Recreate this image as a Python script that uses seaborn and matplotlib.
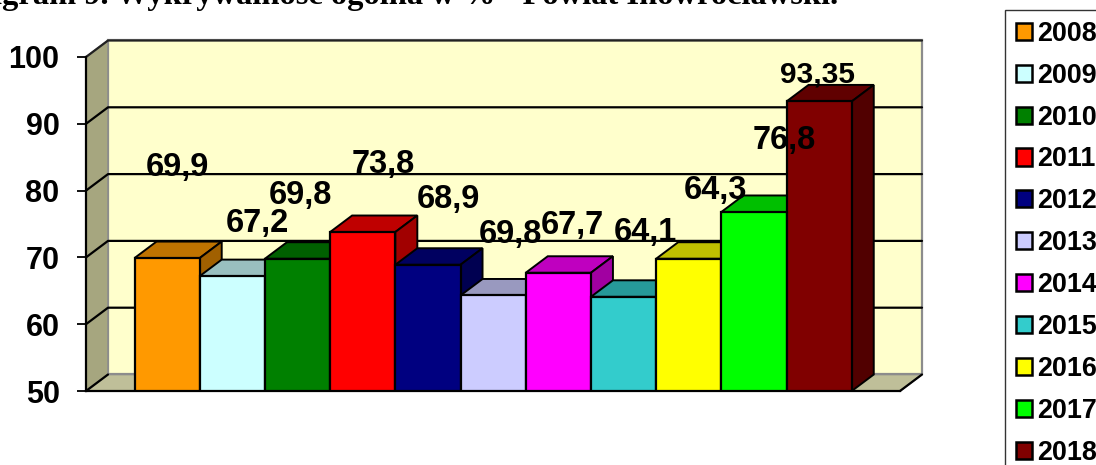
import matplotlib
matplotlib.use("Agg")
import matplotlib.pyplot as plt
import seaborn as sns
import pandas as pd
from matplotlib.colors import to_rgb
from matplotlib.patches import Patch

# values
years = ["2008", "2009", "2010", "2011", "2012", "2013", "2014", "2015", "2016", "2017", "2018"]
values = [69.9, 67.2, 69.8, 73.8, 68.9, 64.3, 67.7, 64.1, 69.8, 76.8, 93.35]
# labels as printed on the chart (2013 and 2016 are swapped there)
labels = ["69,9", "67,2", "69,8", "73,8", "68,9", "69,8", "67,7", "64,1", "64,3", "76,8", "93,35"]
colors = ["#FF9900", "#CCFFFF", "#008000", "#FF0000", "#000080", "#CCCCFF",
          "#FF00FF", "#33CCCC", "#FFFF00", "#00FF00", "#800000"]
yticks = [50, 60, 70, 80, 90, 100]
title = "Diagram 9. Wykrywalność ogólna w % - Powiat Inowrocławski."

# label offsets from top centre of each bar, in pixels
label_dx = [10, 25, 2.5, 21, 21, 17, 14, 22, 27, 30, -2]
label_dy = [91, 53, 63, 68, 65, 60.5, 47, 64, 68, 71, 27]
label_size = [23.5] * 10 + [21.5]

sns.set_theme(style="white")
plt.rcParams["font.family"] = ["Liberation Sans", "DejaVu Sans"]
plt.rcParams["font.weight"] = "bold"

W, H = 1096, 465
fig = plt.figure(figsize=(W / 100, H / 100), dpi=100)
ax = fig.add_axes([86 / W, (H - 391) / H, (900 - 86) / W, (391 - 57) / H])
ax.patch.set_alpha(0)

df = pd.DataFrame({"year": years, "value": values})
sns.barplot(data=df, x="year", y="value", hue="year", palette=colors, legend=False,
            width=1, saturation=1, edgecolor="black", linewidth=1.6, zorder=5, ax=ax)

x0, x1 = -1.244, 11.24
ax.set_xlim(x0, x1)
ax.set_ylim(50, 100)
ax.set_xlabel("")
ax.set_ylabel("")
ax.set_xticks([])
ax.set_yticks(yticks)
ax.tick_params(axis="y", left=True, length=6.5, width=1.3, color="black", pad=12.5,
               labelsize=22, labelcolor="black")
sns.despine(ax=ax, top=True, right=True)
for s in ["left", "bottom"]:
    ax.spines[s].set_color("black")
    ax.spines[s].set_linewidth(1.6)
    ax.spines[s].set_zorder(6)

# 3d depth in data units
dx = 22 / 65.2
dy = 16.5 / 6.68


def face(xs, ys, fc, z, ec="none", lw=0):
    ax.fill(xs, ys, facecolor=fc, edgecolor=ec, linewidth=lw, clip_on=False, zorder=z)


def shade(c, k):
    return tuple(v * k for v in to_rgb(c))


# walls and floor
face([x0 + dx, x1 + dx, x1 + dx, x0 + dx], [50 + dy, 50 + dy, 100 + dy, 100 + dy], "#FFFFCC", 1, "#8c8c8c", 1.6)
face([x0, x0 + dx, x0 + dx, x0], [50, 50 + dy, 100 + dy, 100], "#A6A67F", 1, "#8c8c8c", 1.2)
face([x0, x1, x1 + dx, x0 + dx], [50, 50, 50 + dy, 50 + dy], "#BFBF99", 1, "#8c8c8c", 1.2)
ax.plot([x0, x0 + dx, x1 + dx], [100, 100 + dy, 100 + dy], color="#222222", lw=1.6, clip_on=False, zorder=2)
ax.plot([x1, x1 + dx], [50, 50 + dy], color="black", lw=1.6, clip_on=False, zorder=2)

# grid on back and side wall
for t in yticks[:-1]:
    if t > 50:
        ax.plot([x0, x0 + dx, x1 + dx], [t, t + dy, t + dy], color="black", lw=1.6, clip_on=False, zorder=2)
ax.plot([x0, x0 + dx], [50, 50 + dy], color="black", lw=1.6, clip_on=False, zorder=2)

# top and side faces go under the fronts
for i, (v, c) in enumerate(zip(values, colors)):
    l, r = i - 0.5, i + 0.5
    face([l, r, r + dx, l + dx], [v, v, v + dy, v + dy], shade(c, 0.75), 3, "black", 1.4)
    face([r, r + dx, r + dx, r], [50, 50 + dy, v + dy, v], shade(c, 0.63), 3, "black", 1.4)

for i, (v, t) in enumerate(zip(values, labels)):
    ax.annotate(t, xy=(i, v), xytext=(label_dx[i], label_dy[i]), textcoords="offset pixels",
                ha="center", va="center", fontsize=label_size[i], fontweight="bold", color="black",
                annotation_clip=False, zorder=10)

fig.text(838 / W, (H - 4) / H, title, ha="right", va="baseline", fontsize=23.4,
         fontweight="bold", color="black", family=["Liberation Serif", "DejaVu Serif"])

handles = [Patch(facecolor=c, edgecolor="black", linewidth=1.8) for c in colors]
fig.legend(handles, years, loc="upper left", bbox_to_anchor=(1005 / W, (H - 10) / H),
           borderaxespad=0, frameon=True, fancybox=False, edgecolor="#333333", framealpha=1,
           prop={"size": 19.4, "weight": "bold"}, labelcolor="black",
           handlelength=0.6, handleheight=0.6, handletextpad=0.2, borderpad=0.4,
           labelspacing=0.59)

fig.savefig("out.png", dpi=100)
